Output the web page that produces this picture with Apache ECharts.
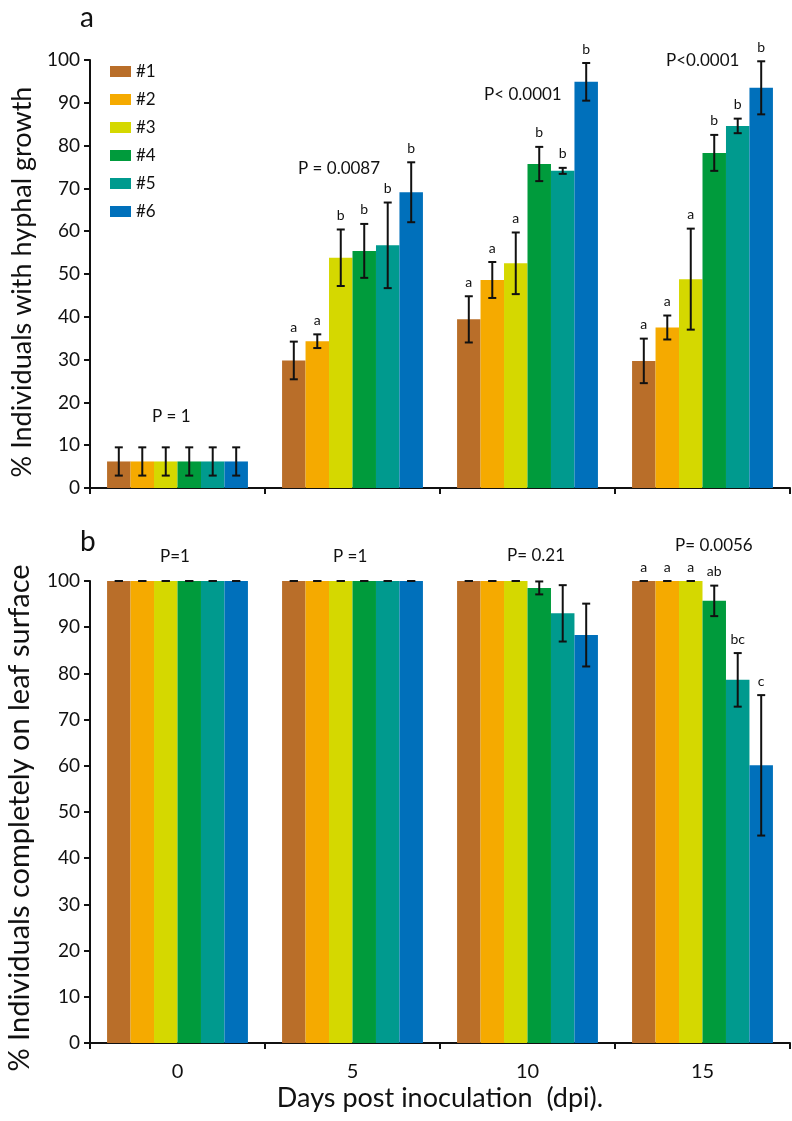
<!DOCTYPE html>
<html><head><meta charset="utf-8">
<script src="https://cdn.jsdelivr.net/npm/echarts@6/dist/echarts.min.js"></script>
<style>html,body{margin:0;padding:0;background:#fff}#c{width:792px;height:1121px}</style>
</head><body><div id="c"></div>
<script>
const categories = ['0', '5', '10', '15'];
const seriesNames = ['#1', '#2', '#3', '#4', '#5', '#6'];
const colors = ['#B96E29', '#F5AA00', '#D5D800', '#009B3C', '#009A8E', '#0070BB'];

// Panel a: % individuals with hyphal growth (per series, by dpi 0,5,10,15)
const hyphal1 = [6.2, 29.8, 39.4, 29.7];
const hyphal2 = [6.2, 34.3, 48.6, 37.5];
const hyphal3 = [6.2, 53.8, 52.5, 48.8];
const hyphal4 = [6.2, 55.4, 75.7, 78.3];
const hyphal5 = [6.2, 56.7, 74.1, 84.6];
const hyphal6 = [6.2, 69.1, 94.9, 93.5];
const hyphalErr1 = [3.3, 4.4, 5.4, 5.2];
const hyphalErr2 = [3.3, 1.6, 4.2, 2.8];
const hyphalErr3 = [3.3, 6.6, 7.2, 11.8];
const hyphalErr4 = [3.3, 6.3, 4.0, 4.2];
const hyphalErr5 = [3.3, 10.0, 0.7, 1.7];
const hyphalErr6 = [3.3, 7.0, 4.4, 6.2];
const hyphalLetters = [
  ['', 'a', 'a', 'a'], ['', 'a', 'a', 'a'], ['', 'b', 'a', 'a'],
  ['', 'b', 'b', 'b'], ['', 'b', 'b', 'b'], ['', 'b', 'b', 'b']
];
const hyphalP = ['P = 1', 'P = 0.0087', 'P< 0.0001', 'P<0.0001'];

// Panel b: % individuals completely on leaf surface
const surface1 = [100, 100, 100, 100];
const surface2 = [100, 100, 100, 100];
const surface3 = [100, 100, 100, 100];
const surface4 = [100, 100, 98.5, 95.7];
const surface5 = [100, 100, 93.0, 78.6];
const surface6 = [100, 100, 88.3, 60.1];
const surfaceErr1 = [0, 0, 0, 0];
const surfaceErr2 = [0, 0, 0, 0];
const surfaceErr3 = [0, 0, 0, 0];
const surfaceErr4 = [0, 0, 1.4, 3.3];
const surfaceErr5 = [0, 0, 6.1, 5.8];
const surfaceErr6 = [0, 0, 6.8, 15.2];
const surfaceLetters = [
  ['', '', '', 'a'], ['', '', '', 'a'], ['', '', '', 'a'],
  ['', '', '', 'ab'], ['', '', '', 'bc'], ['', '', '', 'c']
];
const surfaceP = ['P=1', 'P =1', 'P= 0.21', 'P= 0.0056'];

const yTicks = [0, 10, 20, 30, 40, 50, 60, 70, 80, 90, 100];

const hyphal = [hyphal1, hyphal2, hyphal3, hyphal4, hyphal5, hyphal6];
const hyphalErr = [hyphalErr1, hyphalErr2, hyphalErr3, hyphalErr4, hyphalErr5, hyphalErr6];
const surface = [surface1, surface2, surface3, surface4, surface5, surface6];
const surfaceErr = [surfaceErr1, surfaceErr2, surfaceErr3, surfaceErr4, surfaceErr5, surfaceErr6];

const FONT = 'Lato';
const GAP = 0.195;

function errData(means, errs, letters) {
  const d = [], lab = [];
  for (let s = 0; s < means.length; s++) {
    for (let c = 0; c < categories.length; c++) {
      d.push([c, s, means[s][c], errs[s][c]]);
      lab.push(letters[s][c]);
    }
  }
  return { d, lab };
}

function makeRender(labels) {
  return function (params, api) {
    const c = api.value(0), s = api.value(1), m = api.value(2), e = api.value(3);
    const ctr = api.coord([c, m]);
    const bw = api.size([1, 0])[0] * (1 - GAP) / 6;
    const x = ctr[0] + (s - 2.5) * bw;
    const hi = api.coord([c, m + e])[1];
    const lo = api.coord([c, m - e])[1];
    const cap = 4;
    const st = { stroke: '#111', lineWidth: 2 };
    const children = [
      { type: 'line', shape: { x1: x, y1: hi, x2: x, y2: lo }, style: st },
      { type: 'line', shape: { x1: x - cap, y1: hi, x2: x + cap, y2: hi }, style: st },
      { type: 'line', shape: { x1: x - cap, y1: lo, x2: x + cap, y2: lo }, style: st }
    ];
    const t = labels[params.dataIndex];
    if (t) children.push({ type: 'text', style: { text: t, x: x, y: hi - 7, textAlign: 'center', textVerticalAlign: 'bottom', fontSize: 14, fontFamily: FONT, fill: '#111' } });
    return { type: 'group', children };
  };
}

const ea = errData(hyphal, hyphalErr, hyphalLetters);
const eb = errData(surface, surfaceErr, surfaceLetters);

function yAxisCfg(idx, name, gap, fs, pad) {
  return {
    type: 'value', gridIndex: idx, min: 0, max: 100, interval: 10,
    name: name, nameLocation: 'middle', nameGap: gap,
    nameTextStyle: { fontFamily: FONT, fontSize: fs, color: '#111', padding: pad },
    axisLine: { show: true, lineStyle: { color: '#111', width: 2 } },
    axisTick: { show: true, length: 6, lineStyle: { color: '#111', width: 2 } },
    axisLabel: { fontFamily: FONT, fontSize: 19, color: '#111', margin: 10,
      formatter: v => yTicks.includes(v) ? String(v) : '' },
    splitLine: { show: false }
  };
}

function xAxisCfg(idx, showLabels) {
  return {
    type: 'category', gridIndex: idx, data: categories,
    axisLine: { show: true, lineStyle: { color: '#111', width: 2 } },
    axisTick: { show: true, length: 6, lineStyle: { color: '#111', width: 2 } },
    axisLabel: { show: showLabels, fontFamily: FONT, fontSize: 20, color: '#111', margin: 19 },
    name: showLabels ? 'Days post inoculation  (dpi).' : '',
    nameLocation: 'middle', nameGap: 42,
    nameTextStyle: { fontFamily: FONT, fontSize: 27, color: '#111' }
  };
}

const series = [];
for (let s = 0; s < 6; s++) {
  series.push({ name: seriesNames[s], type: 'bar', xAxisIndex: 0, yAxisIndex: 0, data: hyphal[s],
    barGap: '0%', barCategoryGap: (GAP * 100) + '%', itemStyle: { color: colors[s] } });
}
for (let s = 0; s < 6; s++) {
  series.push({ name: seriesNames[s], type: 'bar', xAxisIndex: 1, yAxisIndex: 1, data: surface[s],
    barGap: '0%', barCategoryGap: (GAP * 100) + '%', itemStyle: { color: colors[s] } });
}
series.push({ type: 'custom', xAxisIndex: 0, yAxisIndex: 0, data: ea.d, renderItem: makeRender(ea.lab), z: 10, clip: false, silent: true });
series.push({ type: 'custom', xAxisIndex: 1, yAxisIndex: 1, data: eb.d, renderItem: makeRender(eb.lab), z: 10, clip: false, silent: true });

function pText(t, x, y) {
  return { type: 'text', left: x, top: y, style: { text: t, fontFamily: FONT, fontSize: 17, fill: '#111', textAlign: 'center' } };
}

const option = {
  animation: false,
  backgroundColor: '#fff',
  grid: [
    { left: 90, right: 2, top: 60, height: 428, containLabel: false, outerBoundsMode: 'none' },
    { left: 90, right: 2, top: 581, height: 462, containLabel: false, outerBoundsMode: 'none' }
  ],
  xAxis: [xAxisCfg(0, false), xAxisCfg(1, true)],
  yAxis: [
    yAxisCfg(0, '% Individuals with hyphal growth', 51, 27, [0, 16, 0, 0]),
    yAxisCfg(1, '% Individuals completely on leaf surface', 56, 29, [0, 12, 0, 0])
  ],
  legend: {
    data: seriesNames, orient: 'vertical', left: 105, top: 58,
    itemWidth: 21, itemHeight: 11, itemGap: 11,
    textStyle: { fontFamily: FONT, fontSize: 17, color: '#111', lineHeight: 14 },
    icon: 'rect'
  },
  graphic: [
    { type: 'text', left: 80, top: 4, style: { text: 'a', fontFamily: FONT, fontSize: 28, fill: '#111' } },
    { type: 'text', left: 80, top: 528, style: { text: 'b', fontFamily: FONT, fontSize: 28, fill: '#111' } },
    pText(hyphalP[0], 152, 408),
    pText(hyphalP[1], 298, 160),
    pText(hyphalP[2], 484, 86),
    pText(hyphalP[3], 666, 52),
    pText(surfaceP[0], 160, 548),
    pText(surfaceP[1], 333, 548),
    pText(surfaceP[2], 507, 547),
    pText(surfaceP[3], 675, 537)
  ],
  series
};
echarts.init(document.getElementById('c'), null, { renderer: 'canvas' }).setOption(option);
</script></body></html>
